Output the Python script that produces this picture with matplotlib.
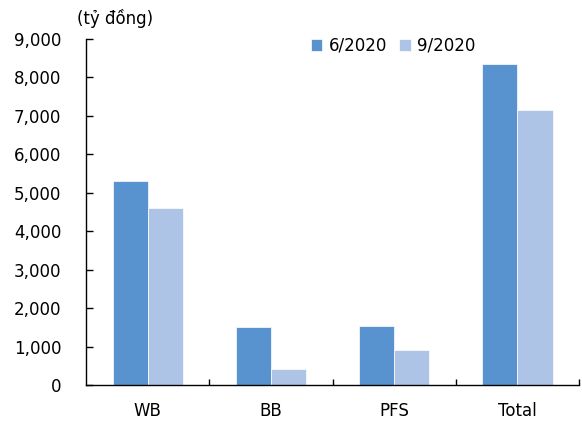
import numpy as np
import matplotlib.pyplot as plt
from matplotlib.ticker import FuncFormatter

categories = ['WB', 'BB', 'PFS', 'Total']
jun_2020 = [5300, 1520, 1540, 8350]
sep_2020 = [4600, 410, 910, 7150]

plt.rcParams['font.family'] = ['DejaVu Sans']

fig = plt.figure(figsize=(5.82, 4.21), dpi=100)
ax = fig.add_axes([0.148, 0.0855, 0.847, 0.822])

x = np.arange(len(categories))
w = 0.285
ax.bar(x - w / 2, jun_2020, w, color='#5893d0', edgecolor='white', linewidth=0.5, label='6/2020')
ax.bar(x + w / 2, sep_2020, w, color='#aec4e6', edgecolor='white', linewidth=0.5, label='9/2020')

ax.set_xlim(-0.5, len(categories) - 0.5)
ax.set_ylim(0, 9000)
ax.set_yticks(np.arange(0, 9001, 1000))
ax.yaxis.set_major_formatter(FuncFormatter(lambda v, p: f'{int(v):,}'))
ax.set_xticks(x)
ax.set_xticklabels(categories)
ax.set_xticks(np.arange(0.5, len(categories), 1), minor=True)

ax.tick_params(axis='x', which='major', length=0, pad=12, labelsize=12)
ax.tick_params(axis='x', which='minor', direction='in', length=4, width=1)
ax.tick_params(axis='y', direction='in', length=5, width=1, pad=18, labelsize=12)

for s in ['top', 'right']:
    ax.spines[s].set_visible(False)
for s in ['left', 'bottom']:
    ax.spines[s].set_linewidth(1)

fig.text(0.132, 0.957, '(tỷ đồng)', fontsize=12, ha='left', va='center')

# legend sits just under the top of the axis, right of centre
ax.legend(loc='center left', bbox_to_anchor=(0.425, 0.98), ncol=2, frameon=False,
          fontsize=12, handlelength=0.7, handleheight=0.7, handletextpad=0.4,
          columnspacing=0.7)

fig.savefig('out.png', dpi=100)
